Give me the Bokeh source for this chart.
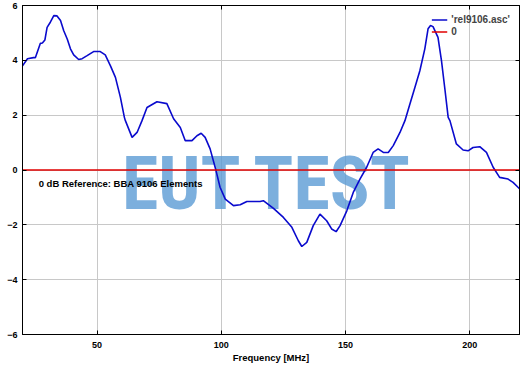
from bokeh.plotting import figure
from bokeh.models import (Range1d, FixedTicker, LinearAxis, Label, Legend, LegendItem,
                          CustomLabelingPolicy)
from bokeh.embed import file_html
from bokeh.resources import INLINE

# ---- data ----
freq = [20.0, 22.0, 24.4, 25.2, 27.2, 28.0, 29.0, 29.9, 31.2, 32.6, 33.9, 35.3, 36.6,
        38.0, 39.3, 40.6, 42.6, 44.0, 46.0, 48.6, 51.3, 53.3, 55.4, 57.4, 59.4, 61.0,
        61.4, 64.1, 66.1, 68.1, 70.1, 74.1, 78.1, 80.8, 83.5, 85.5, 88.2, 90.2, 91.9,
        93.5, 95.5, 97.9, 99.5, 101.6, 104.9, 107.6, 110.3, 115.6, 116.9, 121.0, 125.0,
        128.4, 131.0, 132.4, 134.4, 137.0, 139.7, 142.4, 144.4, 146.2, 147.8, 150.5,
        153.1, 155.8, 158.5, 161.1, 163.1, 165.2, 167.2, 169.2, 171.9, 173.9, 175.9,
        177.9, 179.9, 181.9, 183.2, 184.2, 185.2, 187.2, 188.6, 189.9, 191.3, 192.0,
        194.6, 197.3, 199.3, 201.3, 204.0, 206.7, 209.4, 212.0, 215.4, 217.4, 219.4, 220.0]
level = [3.80, 4.06, 4.10, 4.10, 4.62, 4.63, 4.74, 5.20, 5.39, 5.63, 5.62, 5.45, 5.08,
         4.78, 4.42, 4.20, 4.03, 4.06, 4.17, 4.32, 4.32, 4.20, 3.80, 3.38, 2.65, 1.92,
         1.80, 1.19, 1.37, 1.80, 2.28, 2.49, 2.42, 1.87, 1.55, 1.07, 1.07, 1.25, 1.34,
         1.19, 0.77, -0.03, -0.63, -1.06, -1.30, -1.27, -1.15, -1.15, -1.12, -1.40, -1.73,
         -2.09, -2.58, -2.79, -2.64, -2.03, -1.61, -1.85, -2.15, -2.25, -2.03, -1.49,
         -0.82, -0.33, 0.10, 0.64, 0.77, 0.64, 0.64, 0.89, 1.37, 1.80, 2.41,
         3.01, 3.62, 4.42, 5.15, 5.27, 5.23, 4.84, 3.99, 3.01, 1.92, 1.80,
         0.95, 0.73, 0.70, 0.82, 0.85, 0.64, 0.10, -0.27, -0.33, -0.45, -0.63, -0.68]

zero_freq = [20, 220]
zero_level = [0, 0]

x_ticks = [50, 100, 150, 200]
y_ticks = [-6, -4, -2, 0, 2, 4, 6]

FONT = "Liberation Sans"

p = figure(width=527, height=365, output_backend="svg", toolbar_location=None,
           x_range=Range1d(20, 220), y_range=Range1d(-6, 6),
           min_border_left=22, min_border_right=8, min_border_top=5, min_border_bottom=31)

p.background_fill_color = "white"
p.border_fill_color = "white"
p.outline_line_color = "black"
p.outline_line_width = 1

# grid
p.xgrid.ticker = FixedTicker(ticks=x_ticks)
p.ygrid.ticker = FixedTicker(ticks=y_ticks)
for g in (p.xgrid, p.ygrid):
    g.grid_line_color = "#c8c8c8"
    g.grid_line_width = 1

# axes
p.xaxis.ticker = FixedTicker(ticks=x_ticks)
p.yaxis.ticker = FixedTicker(ticks=y_ticks)
p.xaxis.axis_label = "Frequency [MHz]"
for ax in p.axis:
    ax.axis_line_color = "black"
    ax.major_tick_in = 4
    ax.major_tick_out = 0
    ax.minor_tick_line_color = None
    ax.major_label_text_font = FONT
    ax.major_label_text_font_style = "bold"
    ax.major_label_text_font_size = "9px"
    ax.major_label_text_color = "black"
    ax.axis_label_text_font = FONT
    ax.axis_label_text_font_style = "bold"
    ax.axis_label_text_font_size = "9.5px"
    ax.axis_label_text_color = "black"
p.xaxis.major_label_standoff = 7
p.xaxis.axis_label_standoff = 1
p.yaxis.major_label_standoff = 5

# mirrored ticks on top and right (no labels)
no_labels = "for (const i of indices) indices.unset(i)\nreturn indices"
mirror_kw = dict(major_tick_in=4, major_tick_out=0, minor_tick_line_color=None,
                 major_label_standoff=0, axis_label_standoff=0,
                 major_label_text_font_size="0px", axis_line_color="black")
right_ax = LinearAxis(ticker=FixedTicker(ticks=y_ticks),
                      major_label_policy=CustomLabelingPolicy(code=no_labels), **mirror_kw)
top_ax = LinearAxis(ticker=FixedTicker(ticks=x_ticks),
                    major_label_policy=CustomLabelingPolicy(code=no_labels), **mirror_kw)
p.add_layout(right_ax, "right")
p.add_layout(top_ax, "above")

# watermark
wm = Label(x=118.8, y=-0.5, text="EUT TEST", text_font="Roboto Condensed",
           text_font_style="bold", text_font_size="74px", text_color="#5b9bd5",
           text_alpha=0.8, text_align="center", text_baseline="alphabetic", level="underlay")
p.add_layout(wm)

# lines
r_curve = p.line(freq, level, line_color="#0a0acd", line_width=1.6)
r_zero = p.line(zero_freq, zero_level, line_color="#e00000", line_width=1.5)

# annotation
note = Label(x=26.5, y=-0.5, text="0 dB Reference: BBA 9106 Elements", text_font=FONT,
             text_font_style="bold", text_font_size="9.5px", text_color="black",
             text_baseline="middle")
p.add_layout(note)

legend = Legend(items=[LegendItem(label="'rel9106.asc'", renderers=[r_curve]),
                       LegendItem(label="0", renderers=[r_zero])],
                location="top_right", border_line_color=None, background_fill_alpha=0,
                label_text_font=FONT, label_text_font_style="bold", label_text_font_size="10px",
                glyph_width=16, glyph_height=11, label_height=11, spacing=1, padding=0,
                margin=9, label_standoff=4)
p.add_layout(legend)

open("out.html", "w").write(file_html(p, INLINE))
